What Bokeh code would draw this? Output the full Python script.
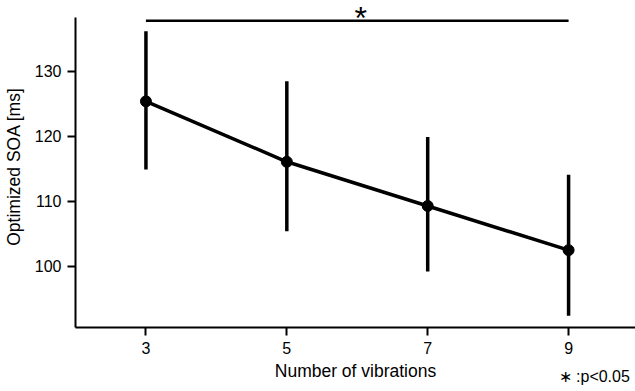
from bokeh.plotting import figure
from bokeh.models import Range1d, FixedTicker, ColumnDataSource
from bokeh.core.properties import value
from bokeh.embed import file_html
from bokeh.resources import INLINE

vibrations = [3, 5, 7, 9]
soa_mean = [125.4, 116.1, 109.3, 102.5]
soa_upper = [136.2, 128.5, 119.9, 114.1]
soa_lower = [114.9, 105.4, 99.2, 92.4]
y_ticks = [100, 110, 120, 130]
sig_pair = [3, 9]
sig_level = 137.8
sig_note = "\u2217 :p<0.05"

FONT = "Liberation Sans"

p = figure(width=635, height=391, output_backend="svg", toolbar_location=None,
           x_range=Range1d(2.0, 9.95), y_range=Range1d(90.6, 140.15),
           min_border_left=74, min_border_right=0, min_border_top=5, min_border_bottom=64)
p.outline_line_color = None
p.grid.visible = False
p.background_fill_color = "white"
p.border_fill_color = "white"

src = ColumnDataSource(dict(x=vibrations, y=soa_mean, lo=soa_lower, hi=soa_upper))
p.segment(x0="x", y0="lo", x1="x", y1="hi", source=src, line_color="black", line_width=3.5)
p.line(x="x", y="y", source=src, line_color="black", line_width=3.5)
p.scatter(x="x", y="y", source=src, size=11, color="black")

# significance bar
p.segment(x0=[sig_pair[0]], y0=[sig_level], x1=[sig_pair[1]], y1=[sig_level],
          line_color="black", line_width=2.5)
p.text(x=[6.05], y=[sig_level], text=["*"],
       text_font=value(FONT), text_font_size="32px", text_align="center",
       text_baseline="alphabetic", y_offset=-3, color="black")

# note below the axis (overlay level so it is not clipped to the frame)
p.text(x=[9.87], y=[83.0], text=[sig_note], text_font=value(FONT),
       text_font_size="16px", text_align="right", text_baseline="middle",
       color="black", level="overlay")

for ax in (p.xaxis[0], p.yaxis[0]):
    ax.axis_line_width = 2
    ax.axis_line_color = "black"
    ax.major_tick_line_width = 2
    ax.major_tick_line_color = "black"
    ax.major_tick_out = 8
    ax.major_tick_in = 0
    ax.minor_tick_line_color = None
    ax.major_label_text_font = FONT
    ax.major_label_text_font_size = "16px"
    ax.major_label_text_color = "black"
    ax.axis_label_text_font = FONT
    ax.axis_label_text_font_size = "17.5px"
    ax.axis_label_text_font_style = "normal"
    ax.axis_label_text_color = "black"
    ax.major_label_standoff = 6

p.xaxis[0].ticker = FixedTicker(ticks=vibrations)
p.xaxis[0].axis_label = "Number of vibrations"
p.xaxis[0].axis_label_standoff = 4
p.yaxis[0].ticker = FixedTicker(ticks=y_ticks)
p.yaxis[0].axis_label = "Optimized SOA [ms]"
p.yaxis[0].axis_label_standoff = 8
p.yaxis[0].bounds = (90.6, 138.3)

open("out.html", "w").write(file_html(p, INLINE))
